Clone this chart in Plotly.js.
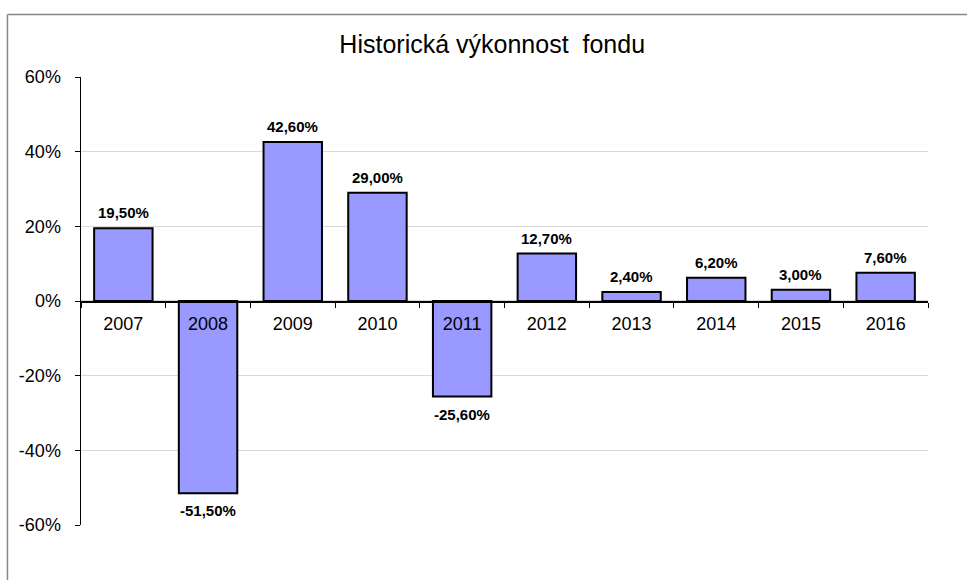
<!DOCTYPE html>
<html>
<head>
<meta charset="utf-8">
<script src="https://cdn.plot.ly/plotly-3.0.1.min.js"></script>
<style>
html,body{margin:0;padding:0;background:#fff;}
#chart{width:967px;height:580px;}
</style>
</head>
<body>
<div id="chart"></div>
<script>
const years = ["2007","2008","2009","2010","2011","2012","2013","2014","2015","2016"];
const returns = [19.5, -51.5, 42.6, 29.0, -25.6, 12.7, 2.4, 6.2, 3.0, 7.6];
const yTickVals = [-60, -40, -20, 0, 20, 40, 60];
const yTickText = ["-60%", "-40%", "-20%", "0%", "20%", "40%", "60%"];
const chartTitle = "Historická výkonnost  fondu";

const labels = returns.map(v => v.toFixed(2).replace('.', ',') + '%');

const trace = {
  type: 'bar',
  x: years,
  y: returns,
  marker: {color: '#9999ff', line: {color: '#000', width: 2}},
  hoverinfo: 'none'
};

const annotations = years.map((yr, i) => ({
  x: i, y: returns[i], xref: 'x', yref: 'y',
  text: labels[i], showarrow: false,
  xanchor: 'center',
  yanchor: returns[i] >= 0 ? 'bottom' : 'top',
  yshift: returns[i] >= 0 ? 5 : -7,
  font: {family: 'Liberation Sans, Arial, sans-serif', size: 15, color: '#000', weight: 'bold'}
}));

const layout = {
  width: 967, height: 580,
  margin: {l: 81, r: 39, t: 77, b: 55},
  paper_bgcolor: '#fff', plot_bgcolor: '#fff',
  font: {family: 'Liberation Sans, Arial, sans-serif', color: '#000'},
  showlegend: false,
  bargap: 0.31,
  title: {text: chartTitle, font: {size: 25, color: '#000'}, x: 0.509, xanchor: 'center', xref: 'container', y: 0.924, yanchor: 'middle', yref: 'container'},
  xaxis: {
    type: 'category',
    categoryorder: 'array', categoryarray: years,
    range: [-0.5, years.length - 0.5],
    anchor: 'free', position: 0.5,
    showline: true, linecolor: '#000', linewidth: 1.5,
    ticks: 'outside', tickson: 'boundaries', ticklen: 5, tickcolor: '#000', tickwidth: 1,
    ticklabelstandoff: 6,
    tickfont: {size: 18, color: '#000'},
    showgrid: false, zeroline: false, fixedrange: true
  },
  yaxis: {
    range: [-60, 60],
    tickvals: yTickVals, ticktext: yTickText,
    showline: true, linecolor: '#000', linewidth: 1.5,
    ticks: 'outside', ticklen: 5, tickcolor: '#000', tickwidth: 1,
    ticklabelstandoff: 10,
    tickfont: {size: 18, color: '#000'},
    showgrid: true, gridcolor: '#d9d9d9', gridwidth: 1.5,
    zeroline: false, fixedrange: true
  },
  annotations: annotations,
  shapes: [
    {type: 'line', xref: 'paper', yref: 'paper', x0: -0.0868, x1: -0.0868, y0: -0.2, y1: 1.1395, line: {color: '#888', width: 1.5}},
    {type: 'line', xref: 'paper', yref: 'paper', x0: -0.0868, x1: 1.2, y0: 1.1395, y1: 1.1395, line: {color: '#888', width: 1.5}}
  ]
};

Plotly.newPlot('chart', [trace], layout, {displayModeBar: false, staticPlot: true});
</script>
</body>
</html>
